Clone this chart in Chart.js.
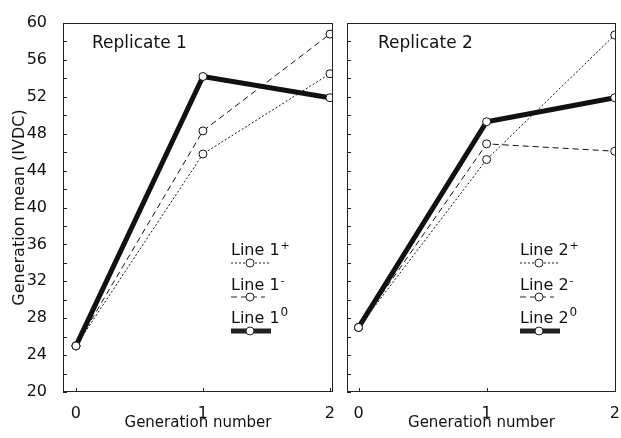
<!DOCTYPE html>
<html>
<head>
<meta charset="utf-8">
<script src="https://cdn.jsdelivr.net/npm/chart.js@4/dist/chart.umd.min.js"></script>
<style>
  body { margin: 0; background: #fff; }
  #wrap { position: relative; width: 621px; height: 438px; background: #fff; }
  #c1 { position: absolute; left: 0; top: 0; }
  #c2 { position: absolute; left: 340px; top: 0; }
</style>
</head>
<body>
<div id="wrap">
  <canvas id="c1" width="340" height="438"></canvas>
  <canvas id="c2" width="281" height="438"></canvas>
</div>
<script>
// values
const generations = [0, 1, 2];
const rep1Plus  = [25, 45.8, 54.5];
const rep1Minus = [25, 48.3, 58.8];
const rep1Zero  = [25, 54.2, 51.9];
const rep2Plus  = [27, 45.2, 58.7];
const rep2Minus = [27, 46.9, 46.1];
const rep2Zero  = [27, 49.3, 51.9];
const yTicks = [20, 24, 28, 32, 36, 40, 44, 48, 52, 56, 60];
const xTicks = [0, 1, 2];
const legend1 = ['Line 1', 'Line 1', 'Line 1'];
const legend2 = ['Line 2', 'Line 2', 'Line 2'];
const legendSup = ['+', '-', '0'];

const FONT = '"DejaVu Sans", sans-serif';
const INK = '#111';

const pts = vals => vals.map((v, i) => ({ x: generations[i], y: v }));

function makeSets(plus, minus, zero, names) {
  const base = {
    borderColor: INK, pointRadius: 4, pointBackgroundColor: '#fff',
    pointBorderColor: INK, pointBorderWidth: 1, tension: 0
  };
  // zero first so the thick line sits on top
  return [
    { ...base, label: names[2], data: pts(zero), borderWidth: 5, key: 2 },
    { ...base, label: names[1], data: pts(minus), borderWidth: 1, borderDash: [6, 4], key: 1 },
    { ...base, label: names[0], data: pts(plus), borderWidth: 1, borderDash: [2, 2], key: 0 }
  ];
}

// frame, inner ticks, panel title and the stacked legend
const panelDecor = {
  id: 'panelDecor',
  afterDraw(chart, args, opts) {
    const { ctx, chartArea: a, scales } = chart;
    ctx.save();
    ctx.strokeStyle = '#222';
    ctx.lineWidth = 1;
    ctx.setLineDash([]);
    ctx.strokeRect(a.left + 0.5, a.top + 0.5, a.right - a.left - 1, a.bottom - a.top - 1);
    ctx.beginPath();
    for (let v = 20; v <= 60; v += 2) {
      const y = Math.round(scales.y.getPixelForValue(v)) + 0.5;
      ctx.moveTo(a.left, y); ctx.lineTo(a.left + 4, y);
    }
    xTicks.forEach(v => {
      const x = Math.round(scales.x.getPixelForValue(v)) + 0.5;
      ctx.moveTo(x, a.bottom); ctx.lineTo(x, a.bottom - 4);
    });
    ctx.stroke();

    ctx.fillStyle = INK;
    ctx.font = '17px ' + FONT;
    ctx.textBaseline = 'alphabetic';
    ctx.fillText(opts.title, opts.titleX, 48);

    const textY = [255, 290, 323];
    const lineY = [263, 297, 331];
    const lens = [38, 34, 40];
    const sets = chart.data.datasets;
    [0, 1, 2].forEach(k => {
      const ds = sets.find(d => d.key === k);
      ctx.fillStyle = INK;
      ctx.font = '16px ' + FONT;
      ctx.fillText(ds.label, opts.legendX, textY[k]);
      const w = ctx.measureText(ds.label).width;
      ctx.font = (k === 2 ? '12px ' : '11px ') + FONT;
      ctx.fillText(legendSup[k], opts.legendX + w + 1, textY[k] - (k === 2 ? 7 : 6));
      ctx.beginPath();
      ctx.lineWidth = ds.borderWidth;
      ctx.setLineDash(ds.borderDash || []);
      ctx.moveTo(opts.legendX, lineY[k]);
      ctx.lineTo(opts.legendX + lens[k], lineY[k]);
      ctx.stroke();
      ctx.setLineDash([]);
      ctx.lineWidth = 1;
      ctx.beginPath();
      ctx.arc(opts.legendX + 19, lineY[k], 4, 0, Math.PI * 2);
      ctx.fillStyle = '#fff';
      ctx.fill();
      ctx.stroke();
    });
    ctx.restore();
  }
};

function panel(id, sets, cfg) {
  return new Chart(document.getElementById(id), {
    type: 'line',
    data: { datasets: sets },
    options: {
      responsive: false,
      animation: false,
      layout: { padding: { top: 23, right: cfg.padRight, bottom: 0, left: 0 } },
      plugins: {
        legend: { display: false },
        tooltip: { enabled: false },
        panelDecor: { title: cfg.title, titleX: cfg.titleX, legendX: cfg.legendX }
      },
      scales: {
        x: {
          type: 'linear', min: cfg.xMin, max: cfg.xMax,
          afterBuildTicks: s => { s.ticks = xTicks.map(v => ({ value: v })); },
          afterFit: s => { s.height = 46; s.paddingLeft = 0; s.paddingRight = 0; },
          grid: { display: false }, border: { display: false },
          ticks: { color: INK, font: { family: FONT, size: 16 }, padding: 4 },
          title: { display: true, text: 'Generation number', color: INK,
                   font: { family: FONT, size: 15 }, padding: { top: 0, bottom: 6 } }
        },
        y: {
          min: 20, max: 60,
          afterBuildTicks: s => { s.ticks = yTicks.map(v => ({ value: v })); },
          afterFit: s => { s.width = cfg.yWidth; s.paddingTop = 0; s.paddingBottom = 0; },
          grid: { display: false }, border: { display: false },
          ticks: { display: cfg.showY, color: INK, font: { family: FONT, size: 16 }, padding: 8 },
          title: { display: cfg.showY, text: 'Generation mean (IVDC)', color: INK,
                   font: { family: FONT, size: 16 }, padding: { top: 10, bottom: 0 } }
        }
      }
    },
    plugins: [panelDecor]
  });
}

panel('c1', makeSets(rep1Plus, rep1Minus, rep1Zero, legend1), {
  title: 'Replicate 1', titleX: 92, legendX: 231, padRight: 7, yWidth: 63,
  showY: true, xMin: -0.102, xMax: 2.024
});
panel('c2', makeSets(rep2Plus, rep2Minus, rep2Zero, legend2), {
  title: 'Replicate 2', titleX: 38, legendX: 180, padRight: 3, yWidth: 7,
  showY: false, xMin: -0.09, xMax: 2.01
});
</script>
</body>
</html>
